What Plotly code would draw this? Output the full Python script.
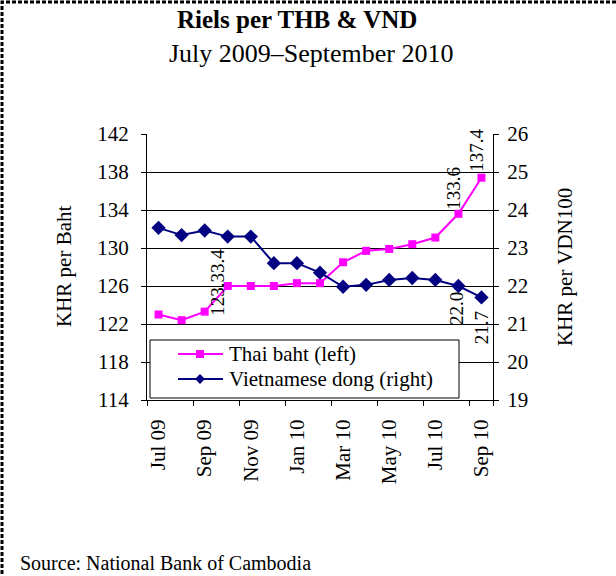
import plotly.graph_objects as go

months = ["Jul 09", "Aug 09", "Sep 09", "Oct 09", "Nov 09", "Dec 09", "Jan 10", "Feb 10",
          "Mar 10", "Apr 10", "May 10", "Jun 10", "Jul 10", "Aug 10", "Sep 10"]
thai_baht = [123.0, 122.4, 123.3, 126.0, 126.0, 126.0, 126.3, 126.3,
             128.5, 129.7, 129.9, 130.4, 131.1, 133.6, 137.4]
viet_dong = [23.53, 23.34, 23.46, 23.30, 23.30, 22.60, 22.60, 22.35,
             21.98, 22.03, 22.16, 22.21, 22.16, 22.0, 21.7]
left_ticks = [114, 118, 122, 126, 130, 134, 138, 142]
right_ticks = [19, 20, 21, 22, 23, 24, 25, 26]

FONT = "Liberation Serif, Times New Roman, serif"
W, H = 616, 576
L, R, T, B = 147, 123, 134, 176
PW, PH = W - L - R, H - T - B

def px(x):
    return (x - L) / PW

def py(y):
    return (H - B - y) / PH

idx = list(range(len(months)))

fig = go.Figure()
fig.add_trace(go.Scatter(x=idx, y=thai_baht, mode="lines+markers", name="Thai baht (left)",
                         line=dict(color="#FF00FF", width=2),
                         marker=dict(symbol="square", size=8, color="#FF00FF"),
                         yaxis="y", showlegend=False))
fig.add_trace(go.Scatter(x=idx, y=viet_dong, mode="lines+markers", name="Vietnamese dong (right)",
                         line=dict(color="#000080", width=2),
                         marker=dict(symbol="diamond", size=11, color="#000080"),
                         yaxis="y2", showlegend=False))

label_font = dict(family=FONT, size=19, color="black")
annotations = [
    dict(x=14, y=thai_baht[14], xref="x", yref="y", text="137.4", textangle=-90,
         xanchor="center", yanchor="bottom", xshift=-5, yshift=4),
    dict(x=13, y=thai_baht[13], xref="x", yref="y", text="133.6", textangle=-90,
         xanchor="center", yanchor="bottom", xshift=-5, yshift=2),
    dict(x=2, y=thai_baht[2], xref="x", yref="y", text="123.33.4", textangle=-90,
         xanchor="center", yanchor="bottom", xshift=12, yshift=-6),
    dict(x=13, y=viet_dong[13], xref="x", yref="y2", text="22.0", textangle=-90,
         xanchor="center", yanchor="top", xshift=-2, yshift=-4),
    dict(x=14, y=viet_dong[14], xref="x", yref="y2", text="21.7", textangle=-90,
         xanchor="center", yanchor="top", xshift=0, yshift=-12),
]
for a in annotations:
    a.update(showarrow=False, font=label_font)

annotations += [
    dict(x=px(297), y=py(20), xref="paper", yref="paper", text="<b>Riels per THB &amp; VND</b>",
         showarrow=False, font=dict(family=FONT, size=25, color="black"), xanchor="center", yanchor="middle"),
    dict(x=px(311), y=py(53), xref="paper", yref="paper", text="July 2009–September 2010",
         showarrow=False, font=dict(family=FONT, size=26, color="black"), xanchor="center", yanchor="middle"),
    dict(x=px(64), y=0.5, xref="paper", yref="paper", text="KHR per Baht", textangle=-90,
         showarrow=False, font=dict(family=FONT, size=21, color="black"), xanchor="center", yanchor="middle"),
    dict(x=px(565), y=0.5, xref="paper", yref="paper", text="KHR per VDN100", textangle=-90,
         showarrow=False, font=dict(family=FONT, size=21, color="black"), xanchor="center", yanchor="middle"),
    dict(x=px(18), y=py(563), xref="paper", yref="paper", text="Source: National Bank of Cambodia",
         showarrow=False, font=dict(family=FONT, size=20, color="black"), xanchor="left", yanchor="middle"),
    dict(x=px(227), y=py(354), xref="paper", yref="paper", text="Thai baht (left)",
         showarrow=False, font=dict(family=FONT, size=21, color="black"), xanchor="left", yanchor="middle"),
    dict(x=px(227), y=py(379), xref="paper", yref="paper", text="Vietnamese dong (right)",
         showarrow=False, font=dict(family=FONT, size=21, color="black"), xanchor="left", yanchor="middle"),
]

shapes = [
    # dashed frame
    dict(type="rect", xref="paper", yref="paper", x0=px(2), x1=px(640), y0=py(600), y1=py(2),
         line=dict(color="black", width=3, dash="4px,2px"), layer="below"),
    # legend box
    dict(type="rect", xref="paper", yref="paper", x0=px(150), x1=px(459), y0=py(398), y1=py(340),
         line=dict(color="black", width=1), fillcolor="white", layer="above"),
    dict(type="line", xref="paper", yref="paper", x0=px(178), x1=px(223), y0=py(354), y1=py(354),
         line=dict(color="#FF00FF", width=2), layer="above"),
    dict(type="line", xref="paper", yref="paper", x0=px(178), x1=px(223), y0=py(379), y1=py(379),
         line=dict(color="#000080", width=2), layer="above"),
    dict(type="rect", xref="paper", yref="paper", xsizemode="pixel", ysizemode="pixel",
         xanchor=px(200), yanchor=py(354), x0=-4, x1=4, y0=-4, y1=4,
         fillcolor="#FF00FF", line=dict(width=0), layer="above"),
    dict(type="path", xref="paper", yref="paper", xsizemode="pixel", ysizemode="pixel",
         xanchor=px(200), yanchor=py(379), path="M 0 5 L 5 0 L 0 -5 L -5 0 Z",
         fillcolor="#000080", line=dict(width=0), layer="above"),
]

fig.update_layout(
    width=W, height=H,
    margin=dict(l=L, r=R, t=T, b=B),
    paper_bgcolor="white", plot_bgcolor="white",
    font=dict(family=FONT, size=20, color="black"),
    showlegend=False,
    hovermode=False,
    annotations=annotations,
    shapes=shapes,
    xaxis=dict(range=[-0.5, len(months) - 0.5], tickmode="array", tickvals=idx[::2],
               ticktext=months[::2], tickangle=-90, ticks="", showgrid=False, zeroline=False,
               showline=True, linecolor="black", linewidth=1,
               tickfont=dict(family=FONT, size=21), ticklabelstandoff=10,
               minor=dict(tickmode="array", tickvals=[i - 0.5 for i in idx[::2]] + [len(months) - 0.5],
                          ticks="outside", ticklen=5, tickcolor="black", showgrid=False)),
    yaxis=dict(range=[114, 142], tickmode="array", tickvals=left_ticks, ticks="outside", ticklen=5,
               tickcolor="black", showline=True, linecolor="black", linewidth=1,
               showgrid=True, gridcolor="black", gridwidth=1, zeroline=False,
               tickfont=dict(family=FONT, size=21), ticklabelstandoff=8),
    yaxis2=dict(range=[19, 26], tickmode="array", tickvals=right_ticks, ticks="outside", ticklen=5,
                tickcolor="black", showline=True, linecolor="black", linewidth=1,
                overlaying="y", side="right", showgrid=False, zeroline=False,
                tickfont=dict(family=FONT, size=21), ticklabelstandoff=4),
)

fig.write_html("out.html", config={"displayModeBar": False, "staticPlot": True},
               post_script="document.body.style.margin='0';document.body.style.padding='0';")
